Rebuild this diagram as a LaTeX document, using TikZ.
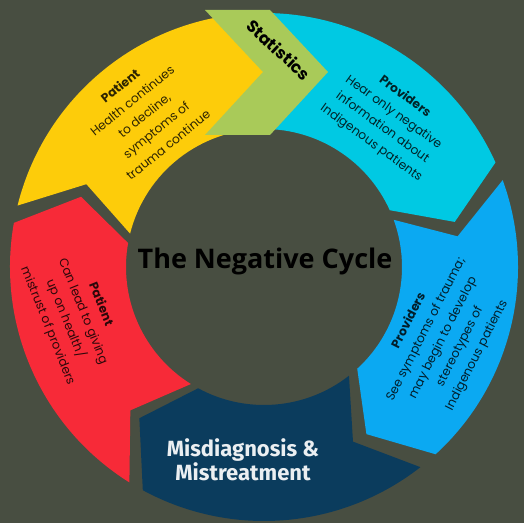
\documentclass[tikz,border=0pt]{standalone}
\usepackage{fontspec}
\setmainfont{Poppins}
\newfontfamily\titlefont{Open Sans}
\newfontfamily\boxfont{Fira Sans}
\usetikzlibrary{positioning}

\definecolor{bgolive}{HTML}{484E41}
\definecolor{cycyellow}{HTML}{FDCC0A}
\definecolor{cycgreen}{HTML}{A9CA59}
\definecolor{cyccyan}{HTML}{00C9E3}
\definecolor{cycblue}{HTML}{0BA9F2}
\definecolor{cycnavy}{HTML}{0B3C5D}
\definecolor{cycred}{HTML}{F72A38}

\begin{document}
\begin{tikzpicture}[x=1pt,y=1pt,
    ringtext/.style={align=center,text=black,text opacity=0.82,font=\fontsize{12.3}{19}\selectfont},
    boxtext/.style={align=center,text=white!92!cycnavy,font=\boxfont\bfseries\fontsize{22}{24.5}\selectfont}]
    % Background
    \fill[bgolive] (0,0) rectangle (524,523);
    \useasboundingbox (0,0) rectangle (524,523);

    % Ring segments (colour/tail/head), clockwise
    \begin{scope}[shift={(264,256)}]
        \foreach \col/\ta/\th in {cycyellow/166/90, cyccyan/90/24.3, cycblue/380/312.5,
                                  cycnavy/308/241.5, cycred/238/170}{
            \fill[\col] (\ta:254pt) arc[start angle=\ta, end angle=\th, radius=254pt]
                -- ({\th-11}:196pt) -- (\th:138pt)
                arc[start angle=\th, end angle=\ta, radius=138pt]
                -- ({\ta-11}:196pt) -- cycle;
        }
    \end{scope}

    % Statistics chevron
    \fill[cycgreen] (205,513) -- (270,513) -- (328,451) -- (270,388) -- (205,388) -- (263,451) -- cycle;
    \node[font=\bfseries\fontsize{16.5}{18}\selectfont,rotate=-43] (stats) at (279,473) {Statistics};

    % Segment texts
    \node[ringtext,rotate=39] (patient1) at (144,408)
        {\textbf{Patient}\\Health continues\\to decline,\\symptoms of\\trauma continue};
    \node[ringtext,rotate=-36] (providers1) at (388,403)
        {\textbf{Providers}\\Hear only negative\\information about\\Indigenous patients};
    \node[ringtext,rotate=63] (providers2) at (443,185)
        {\textbf{Providers}\\See symptoms of trauma;\\may begin to develop\\stereotypes of\\Indigenous patients};
    \node[ringtext,rotate=-68] (patient2) at (74,208)
        {\textbf{Patient}\\Can lead to giving\\up on health/\\mistrust of providers};
    \node[boxtext] (misdiag) at (243,63) {Misdiagnosis \&\\Mistreatment};

    % Title
    \node[font=\titlefont\bfseries\fontsize{27}{30}\selectfont] (title) at (265,262) {The Negative Cycle};
\end{tikzpicture}
\end{document}
